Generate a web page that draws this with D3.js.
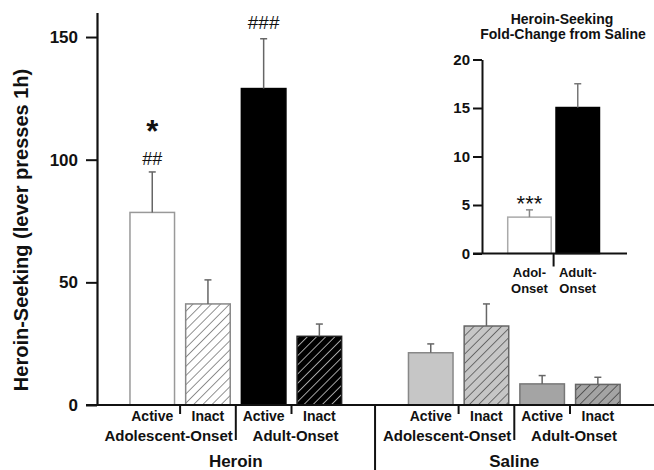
<!DOCTYPE html>
<html>
<head>
<meta charset="utf-8">
<script src="https://cdn.jsdelivr.net/npm/d3@7"></script>
<style>
  body { margin: 0; background: #fff; }
  text { font-family: "Liberation Sans", Arial, sans-serif; fill: #111; }
</style>
</head>
<body>
<div id="chart"></div>
<script>
// main chart data (lever presses in 1h)
var barKeys = ["hAdolAct", "hAdolIn", "hAdultAct", "hAdultIn", "gap", "sAdolAct", "sAdolIn", "sAdultAct", "sAdultIn"];
var barMeans = [78.5, 41.2, 129, 28, null, 21.3, 32.2, 8.6, 8.4];
var barErrors = [16.5, 9.8, 20.3, 5, null, 3.6, 9, 3.4, 2.9];
var leverLabels = ["Active", "Inact", "Active", "Inact", null, "Active", "Inact", "Active", "Inact"];
var onsetLabels = ["Adolescent-Onset", "Adult-Onset"];
var drugLabels = ["Heroin", "Saline"];
var yTicks = [0, 50, 100, 150];

// inset data (fold change from saline)
var foldKeys = ["Adol", "Adult"];
var foldLabels = [["Adol-", "Onset"], ["Adult-", "Onset"]];
var foldMeans = [3.75, 15.05];
var foldErrors = [0.75, 2.45];
var insetTicks = [0, 5, 10, 15, 20];

var width = 654, height = 470;

var svg = d3.select("#chart")
    .append("svg")
        .attr("width", width)
        .attr("height", height);

// hatch patterns
var defs = svg.append("defs");
function hatch(id, bg, line){
    var p = defs.append("pattern")
        .attr("id", id)
        .attr("patternUnits", "userSpaceOnUse")
        .attr("width", 6.5)
        .attr("height", 6.5)
        .attr("patternTransform", "rotate(45)");
    p.append("rect").attr("width", 6.5).attr("height", 6.5).attr("fill", bg);
    p.append("line")
        .attr("x1", 0).attr("y1", 0).attr("x2", 0).attr("y2", 6.5)
        .attr("stroke", line)
        .attr("stroke-width", 1.6);
}
hatch("h-white", "#fff", "#777");
hatch("h-black", "#000", "#c8c8c8");
hatch("h-light", "#c6c6c6", "#555");
hatch("h-dark", "#a4a4a4", "#444");

var barFill = {
    hAdolAct: "#fff", hAdolIn: "url(#h-white)", hAdultAct: "#000", hAdultIn: "url(#h-black)",
    sAdolAct: "#c6c6c6", sAdolIn: "url(#h-light)", sAdultAct: "#a4a4a4", sAdultIn: "url(#h-dark)"
};
var barStroke = {
    hAdolAct: "#999", hAdolIn: "#888", hAdultAct: "#000", hAdultIn: "#222",
    sAdolAct: "#888", sAdolIn: "#666", sAdultAct: "#777", sAdultIn: "#666"
};

// scales
var x = d3.scaleBand().domain(barKeys).range([124.4, 625.7]).paddingInner(0.2).paddingOuter(0.1);
var y = d3.scaleLinear().domain([0, 160]).range([405, 12.5]);

var bars = barKeys.map(function(k, i){
    return {key: k, mean: barMeans[i], err: barErrors[i], lever: leverLabels[i]};
}).filter(function(d){ return d.mean !== null; });

// y axis
var yAxis = svg.append("g")
    .attr("transform", "translate(97,0)")
    .call(d3.axisLeft(y).tickValues(yTicks).tickSize(11).tickPadding(8).tickSizeOuter(0));
yAxis.select(".domain").attr("stroke", "#111").attr("stroke-width", 2.2);
yAxis.selectAll(".tick line").attr("stroke", "#111").attr("stroke-width", 2);
yAxis.selectAll(".tick text")
    .attr("font-family", "Liberation Sans, Arial, sans-serif")
    .attr("font-size", "17px")
    .attr("font-weight", "bold")
    .attr("fill", "#111");

svg.append("text")
    .attr("transform", "translate(28,230) rotate(-90)")
    .attr("text-anchor", "middle")
    .attr("font-size", "20px")
    .attr("font-weight", "bold")
    .text("Heroin-Seeking (lever presses 1h)");

// bars
svg.selectAll(".bar")
    .data(bars)
    .enter()
    .append("rect")
        .attr("class", "bar")
        .attr("x", function(d){ return x(d.key); })
        .attr("y", function(d){ return y(d.mean); })
        .attr("width", x.bandwidth())
        .attr("height", function(d){ return y(0) - y(d.mean); })
        .attr("fill", function(d){ return barFill[d.key]; })
        .attr("stroke", function(d){ return barStroke[d.key]; })
        .attr("stroke-width", 1.5);

// error bars (upper only)
var errG = svg.selectAll(".err")
    .data(bars)
    .enter()
    .append("g")
        .attr("class", "err")
        .attr("stroke", "#666")
        .attr("stroke-width", 1.5);
errG.append("line")
    .attr("x1", function(d){ return x(d.key) + x.bandwidth() / 2; })
    .attr("x2", function(d){ return x(d.key) + x.bandwidth() / 2; })
    .attr("y1", function(d){ return y(d.mean); })
    .attr("y2", function(d){ return y(d.mean + d.err); });
errG.append("line")
    .attr("x1", function(d){ return x(d.key) + x.bandwidth() / 2 - 3.5; })
    .attr("x2", function(d){ return x(d.key) + x.bandwidth() / 2 + 3.5; })
    .attr("y1", function(d){ return y(d.mean + d.err); })
    .attr("y2", function(d){ return y(d.mean + d.err); });

// x axis line
svg.append("line")
    .attr("x1", 86).attr("x2", width)
    .attr("y1", y(0)).attr("y2", y(0))
    .attr("stroke", "#111")
    .attr("stroke-width", 2.2);

// lever labels
svg.selectAll(".lever")
    .data(bars)
    .enter()
    .append("text")
        .attr("class", "lever")
        .attr("x", function(d){ return x(d.key) + x.bandwidth() / 2; })
        .attr("y", 421)
        .attr("text-anchor", "middle")
        .attr("font-size", "14px")
        .attr("font-weight", "bold")
        .text(function(d){ return d.lever; });

// separators below the axis
function gapMid(a, b){
    return (x(a) + x.bandwidth() + x(b)) / 2;
}
var seps = [
    {x: gapMid("hAdolAct", "hAdolIn"), len: 9},
    {x: gapMid("hAdolIn", "hAdultAct"), len: 35},
    {x: gapMid("hAdultAct", "hAdultIn"), len: 9},
    {x: gapMid("hAdultIn", "sAdolAct"), len: 70},
    {x: gapMid("sAdolAct", "sAdolIn"), len: 9},
    {x: gapMid("sAdolIn", "sAdultAct"), len: 35},
    {x: gapMid("sAdultAct", "sAdultIn"), len: 9}
];
svg.selectAll(".sep")
    .data(seps)
    .enter()
    .append("line")
        .attr("class", "sep")
        .attr("x1", function(d){ return d.x; })
        .attr("x2", function(d){ return d.x; })
        .attr("y1", y(0))
        .attr("y2", function(d){ return y(0) + d.len; })
        .attr("stroke", "#111")
        .attr("stroke-width", 2);

// onset labels: adolescent right aligned to separator, adult centred on its pair
var groups = [["hAdolAct", "hAdolIn", "hAdultAct", "hAdultIn"], ["sAdolAct", "sAdolIn", "sAdultAct", "sAdultIn"]];
groups.forEach(function(g, gi){
    var sepX = gapMid(g[1], g[2]);
    svg.append("text")
        .attr("x", sepX - 3)
        .attr("y", 441)
        .attr("text-anchor", "end")
        .attr("font-size", "15px")
        .attr("font-weight", "bold")
        .text(onsetLabels[0]);
    svg.append("text")
        .attr("x", gapMid(g[2], g[3]) + 4)
        .attr("y", 441)
        .attr("text-anchor", "middle")
        .attr("font-size", "15px")
        .attr("font-weight", "bold")
        .text(onsetLabels[1]);
    svg.append("text")
        .attr("x", sepX)
        .attr("y", 467)
        .attr("text-anchor", "middle")
        .attr("font-size", "17px")
        .attr("font-weight", "bold")
        .text(drugLabels[gi]);
});

// significance marks
var cx0 = x("hAdolAct") + x.bandwidth() / 2;
var cx2 = x("hAdultAct") + x.bandwidth() / 2;
svg.append("text")
    .attr("x", cx0).attr("y", 141.5)
    .attr("text-anchor", "middle")
    .attr("font-size", "31px")
    .attr("font-weight", "bold")
    .text("*");
svg.append("text")
    .attr("x", cx0).attr("y", 165)
    .attr("text-anchor", "middle")
    .attr("font-size", "18px")
    .text("##");
svg.append("text")
    .attr("x", cx2).attr("y", 29)
    .attr("text-anchor", "middle")
    .attr("font-size", "19px")
    .text("###");

// ---- inset ----
var xi = d3.scaleBand().domain(foldKeys).range([505.3, 601.9]).paddingInner(0.1).paddingOuter(0.05);
var yi = d3.scaleLinear().domain([0, 20]).range([253.5, 59.5]);

svg.append("text")
    .attr("x", 562).attr("y", 24)
    .attr("text-anchor", "middle")
    .attr("font-size", "14px")
    .attr("font-weight", "bold")
    .text("Heroin-Seeking");
svg.append("text")
    .attr("x", 563).attr("y", 39)
    .attr("text-anchor", "middle")
    .attr("font-size", "14px")
    .attr("font-weight", "bold")
    .text("Fold-Change from Saline");

var iAxis = svg.append("g")
    .attr("transform", "translate(482,0)")
    .call(d3.axisLeft(yi).tickValues(insetTicks).tickSize(9).tickPadding(3).tickSizeOuter(0));
iAxis.select(".domain").attr("stroke", "#111").attr("stroke-width", 2);
iAxis.selectAll(".tick line").attr("stroke", "#111").attr("stroke-width", 2);
iAxis.selectAll(".tick text")
    .attr("font-family", "Liberation Sans, Arial, sans-serif")
    .attr("font-size", "15px")
    .attr("font-weight", "bold")
    .attr("fill", "#111");

var fold = foldKeys.map(function(k, i){
    return {key: k, mean: foldMeans[i], err: foldErrors[i], label: foldLabels[i]};
});

svg.selectAll(".fbar")
    .data(fold)
    .enter()
    .append("rect")
        .attr("class", "fbar")
        .attr("x", function(d){ return xi(d.key); })
        .attr("y", function(d){ return yi(d.mean); })
        .attr("width", xi.bandwidth())
        .attr("height", function(d){ return yi(0) - yi(d.mean); })
        .attr("fill", function(d, i){ return i == 0 ? "#fff" : "#000"; })
        .attr("stroke", function(d, i){ return i == 0 ? "#aaa" : "#000"; })
        .attr("stroke-width", 1.5);

var fErr = svg.selectAll(".ferr")
    .data(fold)
    .enter()
    .append("g")
        .attr("class", "ferr")
        .attr("stroke", function(d, i){ return i == 0 ? "#888" : "#777"; })
        .attr("stroke-width", 1.5);
fErr.append("line")
    .attr("x1", function(d){ return xi(d.key) + xi.bandwidth() / 2; })
    .attr("x2", function(d){ return xi(d.key) + xi.bandwidth() / 2; })
    .attr("y1", function(d){ return yi(d.mean); })
    .attr("y2", function(d){ return yi(d.mean + d.err); });
fErr.append("line")
    .attr("x1", function(d){ return xi(d.key) + xi.bandwidth() / 2 - 3.5; })
    .attr("x2", function(d){ return xi(d.key) + xi.bandwidth() / 2 + 3.5; })
    .attr("y1", function(d){ return yi(d.mean + d.err); })
    .attr("y2", function(d){ return yi(d.mean + d.err); });

svg.append("line")
    .attr("x1", 473).attr("x2", 627)
    .attr("y1", yi(0)).attr("y2", yi(0))
    .attr("stroke", "#111")
    .attr("stroke-width", 2);

var iSep = (xi("Adol") + xi.bandwidth() + xi("Adult")) / 2;
svg.append("line")
    .attr("x1", iSep).attr("x2", iSep)
    .attr("y1", yi(0)).attr("y2", yi(0) + 13)
    .attr("stroke", "#111")
    .attr("stroke-width", 2);

fold.forEach(function(d){
    var t = svg.append("text")
        .attr("text-anchor", "middle")
        .attr("font-size", "13px")
        .attr("font-weight", "bold");
    d.label.forEach(function(s, j){
        t.append("tspan")
            .attr("x", xi(d.key) + xi.bandwidth() / 2)
            .attr("y", 277 + j * 15.5)
            .text(s);
    });
});

svg.append("text")
    .attr("x", xi("Adol") + xi.bandwidth() / 2)
    .attr("y", 211)
    .attr("text-anchor", "middle")
    .attr("font-size", "22px")
    .text("***");
</script>
</body>
</html>
